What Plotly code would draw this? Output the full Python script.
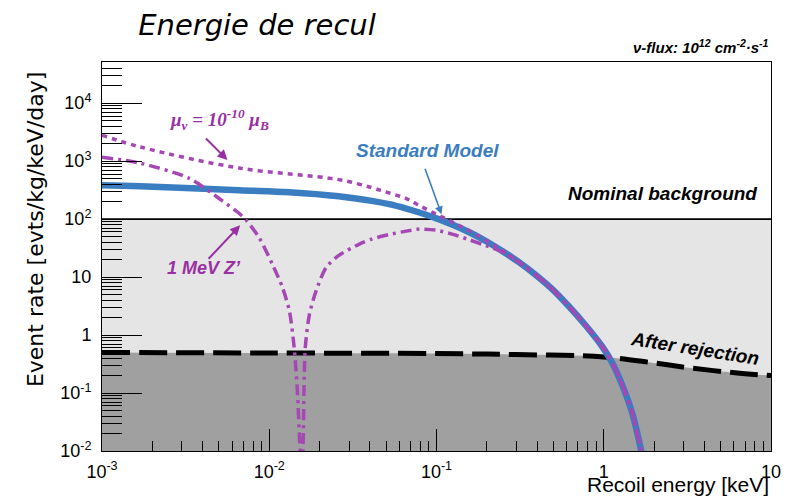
import plotly.graph_objects as go

# ---- recoil spectra (keV, evts/kg/keV/day) ----
energy_sm = [0.001, 0.0017, 0.0066, 0.0132, 0.026, 0.041, 0.052, 0.066, 0.079, 0.099, 0.124, 0.156,
             0.197, 0.247, 0.311, 0.392, 0.492, 0.62, 0.78, 0.98, 1.125, 1.29, 1.48, 1.66, 1.75]
rate_sm = [385, 370, 315, 291, 248, 206, 181, 152, 130, 104, 81, 60,
           42, 28.2, 18.1, 10.9, 6.2, 3.1, 1.46, 0.63, 0.33, 0.137, 0.045, 0.0113, 0.005]

energy_mm = [0.001, 0.0017, 0.0066, 0.026, 0.041, 0.052, 0.066, 0.079, 0.099, 0.124, 0.156,
             0.197, 0.247, 0.311, 0.392, 0.492, 0.62, 0.78, 0.98, 1.125, 1.29, 1.48, 1.66, 1.75]
rate_mm = [2800, 1750, 760, 480, 349, 283, 226, 171, 123, 89.5, 63.6,
           43.1, 28.8, 18.3, 11.0, 6.3, 3.13, 1.48, 0.64, 0.333, 0.138, 0.0456, 0.0114, 0.005]

energy_zp = [0.001, 0.0017, 0.0033, 0.0052, 0.0066, 0.0073, 0.0087, 0.0104, 0.012, 0.0132,
             0.0141, 0.0147, 0.0153, 0.0156, 0.0159, 0.0164, 0.0174, 0.0191, 0.0219, 0.0262,
             0.0346, 0.041, 0.052, 0.066, 0.079, 0.099, 0.124, 0.156, 0.197, 0.247,
             0.311, 0.392, 0.492, 0.62, 0.78, 0.98, 1.125, 1.29, 1.48, 1.66, 1.75]
rate_zp = [1170, 920, 510, 210, 126, 95, 48, 17, 6.6, 2.6,
           0.6, 0.12, 0.010, 0.004, 0.010, 0.58, 2.3, 5.9, 14.7, 23.9,
           37.1, 45.2, 54.1, 62.1, 67.3, 64.6, 55.1, 44.3, 34.9, 27.0,
           18.1, 10.9, 6.2, 3.1, 1.46, 0.63, 0.33, 0.137, 0.045, 0.0113, 0.005]

# background levels
nominal_background = 100
energy_bg = [0.001, 0.01, 0.1, 0.3, 1.0, 2.0, 3.3, 6.5, 10]
rate_bg = [0.50, 0.49, 0.48, 0.46, 0.42, 0.33, 0.27, 0.22, 0.20]

# axes
x_range = [0.001, 10]
y_floor = 0.005
x_tickvals = [0.001, 0.01, 0.1, 1, 10]
x_ticktext = ["10<sup>-3</sup>", "10<sup>-2</sup>", "10<sup>-1</sup>", "1", "10"]
y_tickvals = [0.01, 0.1, 1, 10, 100, 1000, 10000]
y_ticktext = ["10<sup>-2</sup>", "10<sup>-1</sup>", "1", "10", "10<sup>2</sup>", "10<sup>3</sup>", "10<sup>4</sup>"]
x_minor = [m * 10.0 ** d for d in range(-3, 1) for m in range(2, 10)]
y_minor = [m * 10.0 ** d for d in range(-2, 5) for m in range(2, 10)]

BLUE = "#3b7dc1"
PURPLE = "#a647b5"
PURPLE_TXT = "#992fa3"
LIGHT = "#e5e5e5"
DARK = "#a0a0a0"
SANS = "Liberation Sans"

fig = go.Figure()

# light band below the nominal background level
fig.add_trace(go.Scatter(x=x_range, y=[y_floor, y_floor], mode="lines",
                         line=dict(width=0), hoverinfo="skip", showlegend=False))
fig.add_trace(go.Scatter(x=x_range, y=[nominal_background] * 2, mode="lines",
                         fill="tonexty", fillcolor=LIGHT, line=dict(width=0),
                         hoverinfo="skip", showlegend=False))
# dark band below the background after rejection
fig.add_trace(go.Scatter(x=energy_bg, y=[y_floor] * len(energy_bg), mode="lines",
                         line=dict(width=0), hoverinfo="skip", showlegend=False))
fig.add_trace(go.Scatter(x=energy_bg, y=rate_bg, mode="lines", fill="tonexty",
                         fillcolor=DARK, line=dict(width=0, shape="spline"),
                         hoverinfo="skip", showlegend=False))

# background lines
fig.add_trace(go.Scatter(x=x_range, y=[nominal_background] * 2, mode="lines",
                         line=dict(color="black", width=1.6), showlegend=False))
fig.add_trace(go.Scatter(x=energy_bg, y=rate_bg, mode="lines",
                         line=dict(color="black", width=5, dash="28px,9px", shape="spline"),
                         showlegend=False))

# signal spectra
fig.add_trace(go.Scatter(x=energy_sm, y=rate_sm, mode="lines",
                         line=dict(color=BLUE, width=6.5, shape="spline", smoothing=1.0),
                         showlegend=False))
fig.add_trace(go.Scatter(x=energy_mm, y=rate_mm, mode="lines",
                         line=dict(color=PURPLE, width=3.5, dash="5px,5px", shape="spline", smoothing=1.0),
                         showlegend=False))
fig.add_trace(go.Scatter(x=energy_zp, y=rate_zp, mode="lines",
                         line=dict(color=PURPLE, width=3.5, dash="11px,5px,3px,5px", shape="spline", smoothing=0.7),
                         showlegend=False))

annotations = [
    # axis titles
    dict(text="Event rate [evts/kg/keV/day]", xref="paper", yref="paper", x=-0.100, y=(451 - 230) / 389,
         textangle=-90, showarrow=False, font=dict(family="DejaVu Sans", size=22, color="black"),
         xanchor="center", yanchor="middle"),
    dict(text="Recoil energy [keV]", xref="paper", yref="paper", x=1.0, y=-(484 - 451) / 389,
         showarrow=False, font=dict(family=SANS, size=21, color="black"),
         xanchor="right", yanchor="middle"),
    # flux
    dict(text="<b><i>ν-flux: 10<sup>12</sup> cm<sup>-2</sup>·s<sup>-1</sup></i></b>", xref="paper", yref="paper",
         x=1.0, y=1 + (62 - 47) / 389, showarrow=False, font=dict(family=SANS, size=15, color="black"),
         xanchor="right", yanchor="middle"),
    # curve labels
    dict(text="<b><i>μ<sub>ν</sub> = 10<sup>-10</sup> μ<sub>B</sub></i></b>", x=-2.30, y=3.71,
         showarrow=False, font=dict(family="Liberation Serif", size=19, color=PURPLE_TXT)),
    dict(text="", x=-2.25, y=3.02, ax=-23, ay=-23, showarrow=True, arrowhead=2, arrowsize=1,
         arrowwidth=2, arrowcolor=PURPLE_TXT),
    dict(text="<b><i>1 MeV Z’</i></b>", x=-2.39, y=1.15, showarrow=False,
         font=dict(family=SANS, size=18, color=PURPLE_TXT)),
    dict(text="", x=-2.174, y=1.893, ax=-33, ay=35, showarrow=True, arrowhead=2, arrowsize=1,
         arrowwidth=2, arrowcolor=PURPLE_TXT),
    dict(text="<b><i>Standard Model</i></b>", x=-1.054, y=3.19, showarrow=False,
         font=dict(family=SANS, size=19, color=BLUE)),
    dict(text="", x=-0.97, y=2.083, ax=-17, ay=-47, showarrow=True, arrowhead=2, arrowsize=1,
         arrowwidth=1.6, arrowcolor=BLUE),
    dict(text="<b><i>Nominal background</i></b>", x=0.353, y=2.446, showarrow=False,
         font=dict(family=SANS, size=19, color="black")),
    dict(text="<b><i>After rejection</i></b>", x=0.545, y=-0.235, textangle=9, showarrow=False,
         font=dict(family=SANS, size=19, color="black")),
]

axis_common = dict(
    type="log", showgrid=False, zeroline=False, showline=True, linecolor="black",
    linewidth=1, mirror=True, ticks="inside", tickcolor="black", tickwidth=1,
    tickmode="array", tickfont=dict(family=SANS, size=18, color="black"),
)

fig.update_layout(
    width=793, height=497,
    margin=dict(l=102, r=22, t=62, b=46),
    paper_bgcolor="white", plot_bgcolor="white",
    title=dict(text="Energie de recul", x=257 / 793, y=1 - 25 / 497, xanchor="center", yanchor="middle",
               font=dict(family="DejaVu Sans", size=29, color="black", style="italic", weight=300)),
    xaxis=dict(axis_common, range=[-3, 1], tickvals=x_tickvals, ticktext=x_ticktext, ticklen=22,
               ticklabelstandoff=4,
               minor=dict(ticks="inside", ticklen=10, tickcolor="black", tickwidth=1,
                          tickmode="array", tickvals=x_minor, showgrid=False)),
    yaxis=dict(axis_common, range=[-2, 4.71], tickvals=y_tickvals, ticktext=y_ticktext, ticklen=40,
               ticklabelstandoff=6,
               minor=dict(ticks="inside", ticklen=20, tickcolor="black", tickwidth=1,
                          tickmode="array", tickvals=y_minor, showgrid=False)),
    annotations=annotations,
    showlegend=False,
)

fig.write_html("out.html")
